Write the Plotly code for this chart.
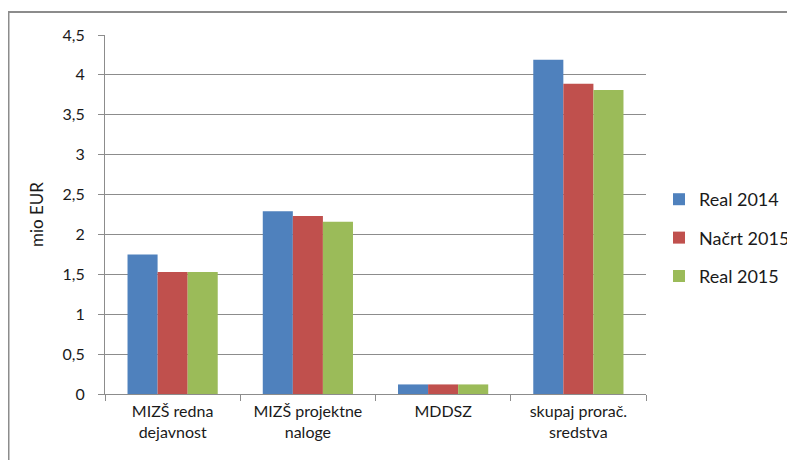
import plotly.graph_objects as go

categories = ['MIZŠ redna<br>dejavnost', 'MIZŠ projektne<br>naloge', 'MDDSZ', 'skupaj prorač.<br>sredstva']
real_2014 = [1.75, 2.29, 0.12, 4.19]
nacrt_2015 = [1.53, 2.23, 0.12, 3.89]
real_2015 = [1.53, 2.16, 0.12, 3.81]

series = [
    ('Real 2014', real_2014, '#4F81BD'),
    ('Načrt 2015', nacrt_2015, '#C0504D'),
    ('Real 2015', real_2015, '#9BBB59'),
]

fig = go.Figure()
for i, (name, vals, color) in enumerate(series):
    fig.add_trace(go.Bar(x=categories, y=vals, name=name, marker_color=color,
                         marker_line_width=0, legendgroup=str(i)))

font = 'Lato, "Open Sans", sans-serif'

# page body has an 8px margin, so the figure is 8px smaller than the window
W, H = 787, 452
L, R, T, B = 97, 149, 27, 66
pw, ph = W - L - R, H - T - B

fig.update_layout(
    width=W, height=H,
    margin=dict(l=L, r=R, t=T, b=B, autoexpand=False),
    paper_bgcolor='white', plot_bgcolor='white',
    separators=',.',
    font=dict(family=font, size=16, color='#1a1a1a'),
    barmode='group', bargap=0.333, bargroupgap=0,
    showlegend=True,
    legend=dict(x=1.024, y=0.4345, xanchor='left', yanchor='middle',
                font=dict(size=18, color='#1a1a1a'),
                traceorder='grouped', tracegroupgap=12,
                bgcolor='rgba(0,0,0,0)'),
    xaxis=dict(showline=True, linecolor='#8c8c8c', linewidth=1,
               ticks='outside', tickson='boundaries', ticklen=6, tickcolor='#8c8c8c',
               tickfont=dict(size=16), showgrid=False, ticklabelstandoff=3),
    yaxis=dict(range=[0, 4.5], dtick=0.5, showline=True, linecolor='#8c8c8c', linewidth=1,
               ticks='outside', ticklen=6, tickcolor='#8c8c8c',
               gridcolor='#8c8c8c', gridwidth=1, zeroline=False,
               tickfont=dict(size=16), ticklabelstandoff=10,
               title=dict(text='mio EUR', font=dict(size=17), standoff=14)),
    shapes=[dict(type='rect', xref='paper', yref='paper',
                 x0=(0.5 - L) / pw, x1=(W + 10 - L) / pw,
                 y0=(ph + T - H - 10) / ph, y1=(ph + T - 4) / ph,
                 line=dict(color='#8c8c8c', width=2), fillcolor='rgba(0,0,0,0)')],
)

fig.write_html('out.html')
